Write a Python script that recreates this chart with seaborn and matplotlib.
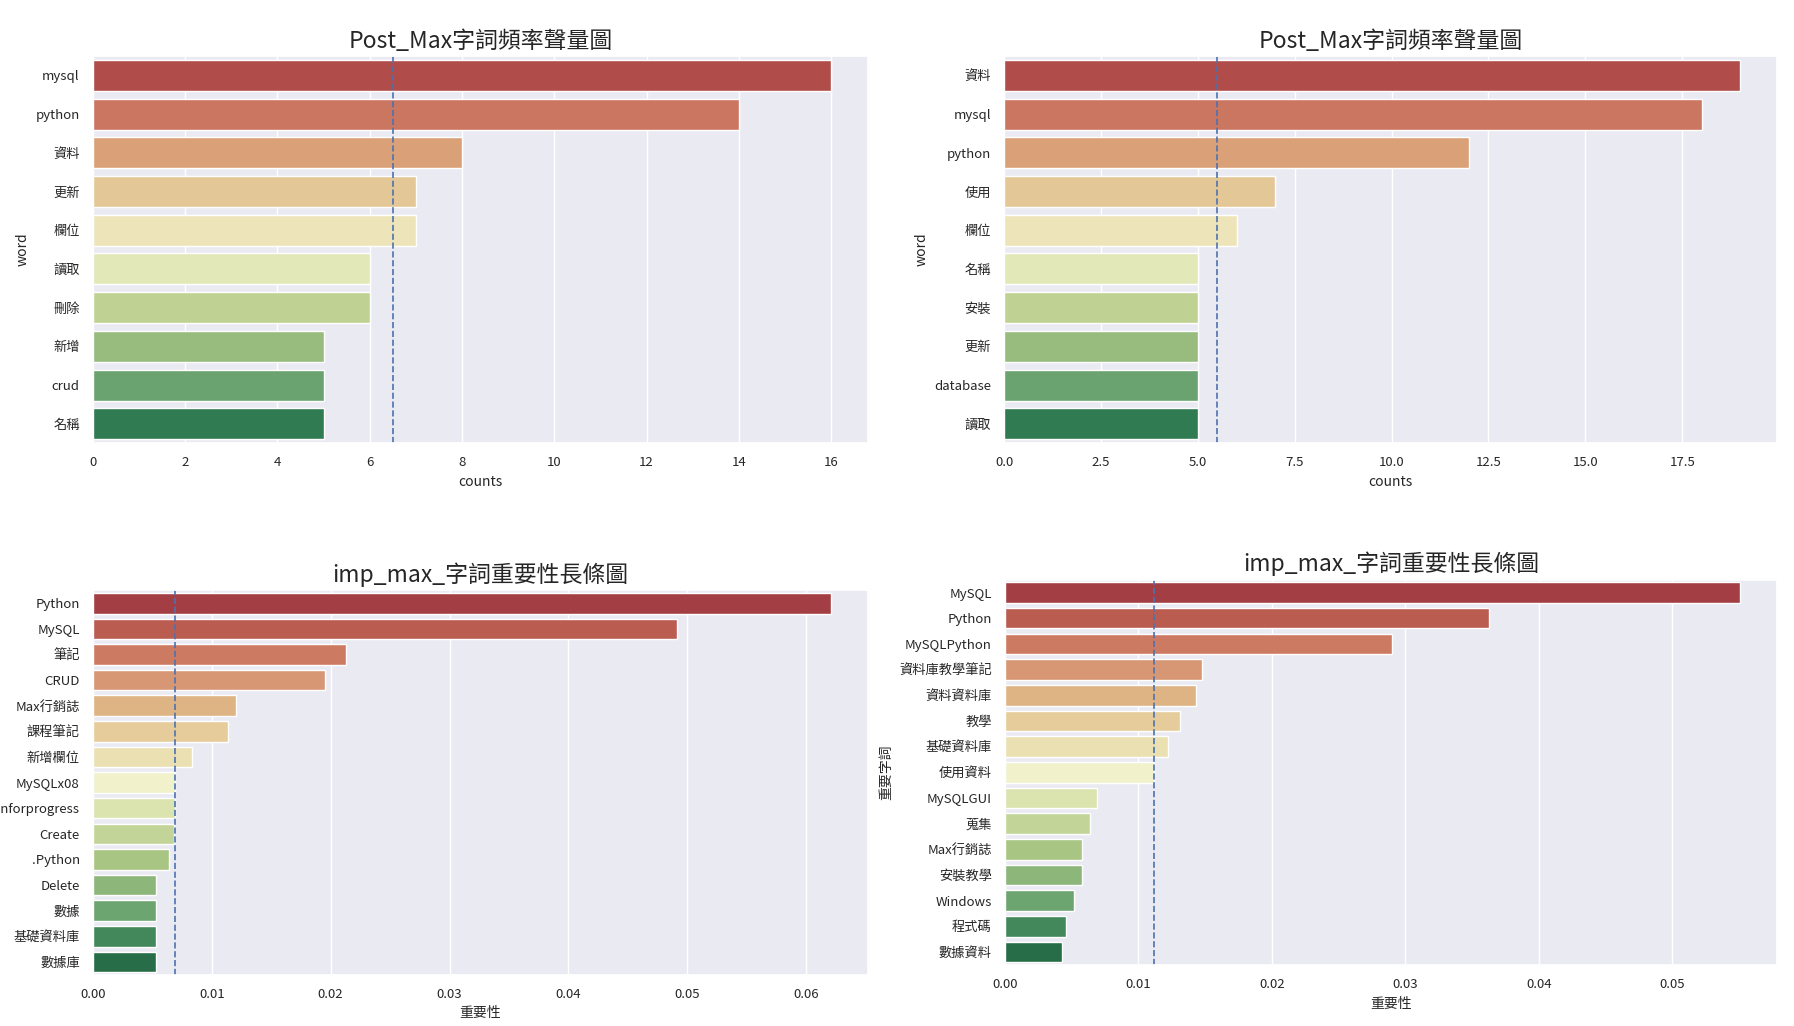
import matplotlib
matplotlib.use("Agg")
import matplotlib.pyplot as plt
import numpy as np
import pandas as pd
import seaborn as sns

sns.set_theme(style="darkgrid")
plt.rcParams['font.family'] = ['Noto Sans CJK TC', 'DejaVu Sans']

# Post_Max word counts (left panel)
words_a = ["mysql", "python", "資料", "更新", "欄位", "讀取", "刪除", "新增", "crud", "名稱"]
counts_a = [16, 14, 8, 7, 7, 6, 6, 5, 5, 5]

# Post_Max word counts (right panel)
words_b = ["資料", "mysql", "python", "使用", "欄位", "名稱", "安裝", "更新", "database", "讀取"]
counts_b = [19, 18, 12, 7, 6, 5, 5, 5, 5, 5]

# imp_max importance (left panel)
terms_c = ["Python", "MySQL", "筆記", "CRUD", "Max行銷誌", "課程筆記", "新增欄位", "MySQLx08",
           "Pythonforprogress", "Create", ".Python", "Delete", "數據", "基礎資料庫", "數據庫"]
imp_c = [0.0621, 0.0491, 0.0213, 0.0195, 0.0120, 0.0114, 0.0083, 0.0069,
         0.0069, 0.0068, 0.0064, 0.0053, 0.0053, 0.0053, 0.0053]

# imp_max importance (right panel)
terms_d = ["MySQL", "Python", "MySQLPython", "資料庫教學筆記", "資料資料庫", "教學", "基礎資料庫", "使用資料",
           "MySQLGUI", "蒐集", "Max行銷誌", "安裝教學", "Windows", "程式碼", "數據資料"]
imp_d = [0.0551, 0.0363, 0.0290, 0.0148, 0.0143, 0.0131, 0.0122, 0.0112,
         0.0069, 0.0064, 0.0058, 0.0058, 0.0052, 0.0046, 0.0043]


def bar_panel(ax, labels, values, title, xlabel, ylabel, xcol, ycol):
    df = pd.DataFrame({ycol: labels, xcol: values})
    sns.barplot(data=df, x=xcol, y=ycol, hue=ycol, palette="RdYlGn", saturation=0.6,
                legend=False, ax=ax)
    # median marker
    ax.axvline(np.median(values), color="b", linestyle="--", linewidth=1.2)
    ax.set_title(title, fontsize=16.5)
    ax.set_xlabel(xlabel, fontsize=10)
    ax.set_ylabel(ylabel, fontsize=10)
    ax.tick_params(labelsize=9.5)


fig = plt.figure(figsize=(17.94, 10.26), dpi=100)
ax1 = fig.add_axes([0.0518, 0.568, 0.432, 0.3775])
ax2 = fig.add_axes([0.5597, 0.568, 0.4309, 0.3775])
ax3 = fig.add_axes([0.0518, 0.050, 0.432, 0.3745])
ax4 = fig.add_axes([0.5602, 0.0595, 0.4303, 0.3755])

bar_panel(ax1, words_a, counts_a, "Post_Max字詞頻率聲量圖", "counts", "word", "counts", "word")
bar_panel(ax2, words_b, counts_b, "Post_Max字詞頻率聲量圖", "counts", "word", "counts", "word")
bar_panel(ax3, terms_c, imp_c, "imp_max_字詞重要性長條圖", "重要性", "", "重要性", "重要字詞")
bar_panel(ax4, terms_d, imp_d, "imp_max_字詞重要性長條圖", "重要性", "重要字詞", "重要性", "重要字詞")

fig.savefig("out.png", dpi=100)
